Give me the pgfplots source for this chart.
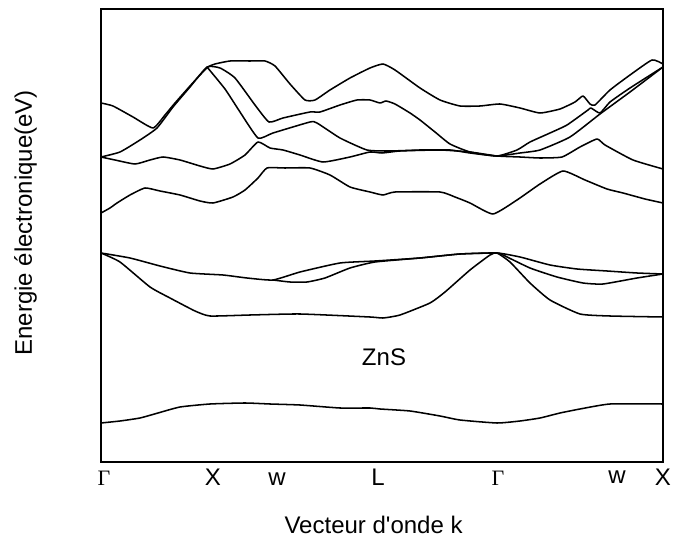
\documentclass[border=0pt]{standalone}
\usepackage{fontspec}
\setmainfont{Liberation Sans}
\newfontfamily\seriffont{Liberation Serif}
\usepackage{pgfplots}
\pgfplotsset{compat=1.18}
\begin{document}
\begin{tikzpicture}
\path[use as bounding box] (-75.75pt,-60pt) rectangle (430.5pt,346.5pt);
\begin{axis}[
  scale only axis, width=421.5pt, height=339.75pt,
  xmin=101, xmax=663, ymin=0, ymax=453,
  ytick=\empty,
  xtick={104,213,277,378,498,617,663},
  xticklabels={{\seriffont\fontsize{16.5}{18}\selectfont Γ},X,w,L,{\seriffont\fontsize{16.5}{18}\selectfont Γ},\raisebox{2pt}{w},X},
  major tick length=0pt,
  axis line style={line width=1.2pt},
  xticklabel style={anchor=base, yshift=-18pt, font=\fontsize{18}{21}\selectfont},
  xlabel={Vecteur d\textquotesingle onde k},
  xlabel style={at={(axis description cs:0.485,-0.157)}, anchor=base, font=\fontsize{18}{21}\selectfont},
  ylabel={Energie électronique(eV)},
  ylabel style={at={(axis description cs:-0.1228,0.528)}, anchor=base, font=\fontsize{18}{21}\selectfont},
  cycle list={{black,solid}},
  every axis plot/.append style={line width=1.15pt, line join=round, mark=none, smooth, tension=0.3},
]
% lowest valence band
\addplot coordinates {(101,39)(120,41)(140,44)(158,49)(180,55)(210,58)(245,59)(270,58)(300,57)(340,54)(370,54)(380,53)(410,51)(440,46)(460,42)(497,39)(520,41)(540,44)(560,49)(580,53)(610,58)(663,58)};
% V1
\addplot coordinates {(101,209)(120,200)(150,175)(170,164)(195,151)(210,146)(250,147)(300,148)(370,145)(383,144)(400,147)(430,159)(445,170)(470,192)(490,207)(497,209)(510,200)(530,179)(550,162)(580,148)(610,146)(663,145)};
% V2
\addplot coordinates {(101,209)(130,204)(160,196)(190,189)(223,187)(247,184)(273,182)(300,190)(340,199)(375,201)(420,204)(460,208)(497,209)(520,205)(550,197)(577,193)(607,191)(637,189)(663,188)};
% V3
\addplot coordinates {(273,182)(290,180)(307,180)(325,184)(350,194)(375,200)(420,204)(460,208)(497,209)(503,207)(530,194)(557,185)(583,179)(603,178)(637,184)(663,188)};
% c1
\addplot coordinates {(101,249)(110,254)(117,259)(130,267)(145,274)(160,271)(180,267)(200,261)(213,259)(233,265)(245,272)(258,284)(267,294)(285,294)(310,294)(330,287)(350,275)(370,270)(383,267)(395,270)(440,270)(455,265)(470,259)(493,248)(517,262)(540,278)(563,291)(585,282)(607,273)(623,269)(645,263)(663,259)};
% c2
\addplot coordinates {(101,305)(115,302)(135,298)(150,302)(163,305)(180,302)(200,296)(213,293)(230,298)(245,307)(258,320)(270,314)(283,312)(300,307)(323,300)(350,305)(370,310)(382,309)(400,311)(440,312)(470,310)(497,306)(520,305)(540,304)(562,305)(580,315)(597,323)(605,317)(633,302)(663,293)};
% U1
\addplot coordinates {(101,359)(113,356)(133,345)(153,334)(165,347)(175,359)(190,376)(200,387)(208,395)(215,398)(230,401)(250,401)(265,401)(275,396)(290,378)(305,362)(315,362)(330,372)(350,384)(370,394)(383,398)(395,392)(420,374)(440,362)(460,356)(480,356)(500,358)(520,354)(540,349)(560,353)(575,360)(583,366)(590,358)(595,357)(610,372)(630,387)(652,402)(663,398)};
% U2
\addplot coordinates {(101,305)(120,310)(140,322)(157,334)(173,355)(190,375)(207,395)(220,394)(235,384)(255,357)(269,340)(283,344)(310,350)(320,350)(340,357)(357,362)(370,362)(380,359)(386,361)(395,358)(410,349)(420,342)(435,330)(450,318)(470,310)(497,306)(517,312)(530,320)(550,329)(567,337)(588,352)(591,354)(600,349)(610,360)(630,374)(663,395)};
% U3
\addplot coordinates {(207,395)(225,373)(240,350)(258,324)(273,329)(310,340)(317,339)(340,324)(367,312)(390,311)(420,312)(450,312)(470,309)(497,306)(520,309)(540,312)(570,325)(600,348)(630,370)(663,395)};
\node[font=\fontsize{18}{21}\selectfont] at (axis cs:384,105) {ZnS};
\end{axis}
\end{tikzpicture}
\end{document}
